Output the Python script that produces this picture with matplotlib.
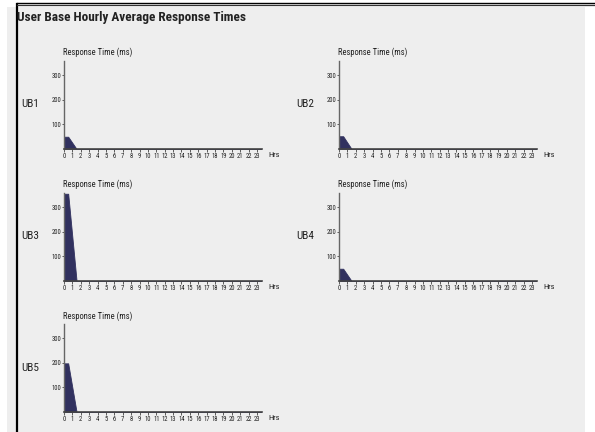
import matplotlib
matplotlib.use("Agg")
import matplotlib.pyplot as plt
from matplotlib import font_manager
from matplotlib.patches import Rectangle
from matplotlib.lines import Line2D

# ---- data ----
title = "User Base Hourly Average Response Times"
y_label = "Response Time (ms)"
x_unit = "Hrs"
hours = list(range(24))
hour_labels = [str(h) for h in hours]
y_ticks = [100, 200, 300]
user_bases = ["UB1", "UB2", "UB3", "UB4", "UB5"]
ub1 = [50, 0, 0, 0, 0, 0, 0, 0, 0, 0, 0, 0, 0, 0, 0, 0, 0, 0, 0, 0, 0, 0, 0, 0]
ub2 = [52, 0, 0, 0, 0, 0, 0, 0, 0, 0, 0, 0, 0, 0, 0, 0, 0, 0, 0, 0, 0, 0, 0, 0]
ub3 = [355, 0, 0, 0, 0, 0, 0, 0, 0, 0, 0, 0, 0, 0, 0, 0, 0, 0, 0, 0, 0, 0, 0, 0]
ub4 = [50, 0, 0, 0, 0, 0, 0, 0, 0, 0, 0, 0, 0, 0, 0, 0, 0, 0, 0, 0, 0, 0, 0, 0]
ub5 = [198, 0, 0, 0, 0, 0, 0, 0, 0, 0, 0, 0, 0, 0, 0, 0, 0, 0, 0, 0, 0, 0, 0, 0]
series = [ub1, ub2, ub3, ub4, ub5]

# ---- fonts ----
avail = {f.name for f in font_manager.fontManager.ttflist}
fam = "DejaVu Sans"
for cand in ["Liberation Sans Narrow", "Roboto Condensed", "Liberation Sans", "Roboto"]:
    if cand in avail:
        fam = cand
        break
plt.rcParams["font.family"] = [fam, "DejaVu Sans"]

W, H = 595, 432
fig = plt.figure(figsize=(W / 100, H / 100), dpi=100)
fig.patch.set_facecolor("white")

def fx(px):
    return px / W

def fy(py):
    return 1 - py / H

# grey panel
fig.patches.append(Rectangle((fx(7), 0), fx(585) - fx(7), fy(7), transform=fig.transFigure,
                             facecolor="#eeeeee", edgecolor="none", zorder=-5))
# border lines
fig.lines.append(Line2D([fx(17), fx(17)], [fy(4), 0], transform=fig.transFigure, color="black", lw=1.6, zorder=-4))
fig.lines.append(Line2D([fx(17), 1], [fy(3.2), fy(3.2)], transform=fig.transFigure, color="black", lw=1.0, zorder=-4))
fig.lines.append(Line2D([fx(17), 1], [fy(5.2), fy(5.2)], transform=fig.transFigure, color="#333333", lw=0.9, zorder=-4))

fig.text(fx(17), fy(17), title, fontsize=9.5, fontweight="bold", color="#222222", ha="left", va="center")

fill_color = "#31315f"
axis_color = "#444444"

col_left = [64, 339]
row_axis = [149, 281, 412]
row_title = [52, 184, 316]
row_label = [104, 236, 368]
axis_w = 198
axis_h = 88
ymax = 358

positions = [(0, 0), (0, 1), (1, 0), (1, 1), (2, 0)]
for name, vals, (r, c) in zip(user_bases, series, positions):
    left = col_left[c]
    bottom = row_axis[r]
    ax = fig.add_axes([fx(left), fy(bottom), axis_w / W, axis_h / H])
    ax.set_zorder(2)
    ax.patch.set_visible(False)
    xs = [0] + [h + 0.5 for h in hours]
    ys = [vals[0]] + vals
    ax.fill_between(xs, ys, 0, color=fill_color, lw=0.6, edgecolor=fill_color)
    ax.set_xlim(0, 23.6)
    ax.set_ylim(0, ymax)
    for s in ["top", "right"]:
        ax.spines[s].set_visible(False)
    ax.spines["left"].set_color("#666666")
    ax.spines["left"].set_linewidth(1.0)
    ax.spines["bottom"].set_color(axis_color)
    ax.spines["bottom"].set_linewidth(1.2)
    ax.set_xticks(hours)
    ax.set_xticklabels(hour_labels)
    ax.set_yticks(y_ticks)
    ax.set_yticklabels([str(t) for t in y_ticks])
    ax.tick_params(axis="x", length=2, width=0.6, color=axis_color, pad=1, labelsize=4.8, labelcolor="#222222")
    ax.tick_params(axis="y", length=1.5, width=0.6, color=axis_color, pad=0.5, labelsize=4.8, labelcolor="#222222")
    fig.text(fx(left - 1), fy(row_title[r]), y_label, fontsize=6.2, color="#222222", ha="left", va="center")
    fig.text(fx(left + axis_w + 6), fy(bottom + 6), x_unit, fontsize=6, color="#222222", ha="left", va="center")
    fig.text(fx(left - 43), fy(row_label[r]), name, fontsize=8, color="#222222", ha="left", va="center")

fig.savefig("out.png", dpi=100, facecolor="white")
